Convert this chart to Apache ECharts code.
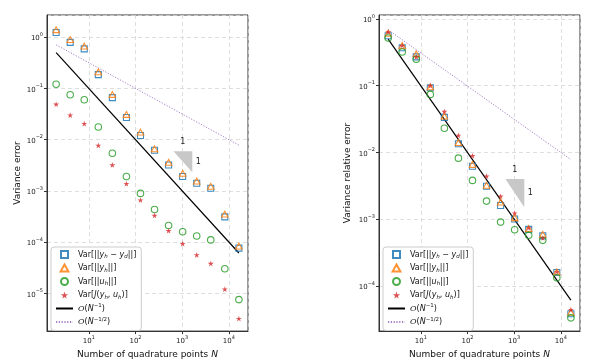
<!DOCTYPE html>
<html>
<head>
<meta charset="utf-8">
<script src="https://cdn.jsdelivr.net/npm/echarts@6/dist/echarts.min.js"></script>
<style>
html, body { margin: 0; padding: 0; background: #fff; }
#chart { width: 615px; height: 364px; }
</style>
</head>
<body>
<div id="chart"></div>
<script>
// number of quadrature points
const nPoints = [2, 4, 8, 16, 32, 64, 128, 256, 512, 1024, 2048, 4096, 8192, 16384]

// variance error (left panel)
const absYhYd = [1.23, 0.79, 0.59, 0.186, 0.066, 0.027, 0.012, 0.0062, 0.0032, 0.0019, 0.0014, 0.00112, 0.00031, 7.6e-5]
const absYh = [1.4, 0.9, 0.67, 0.21, 0.076, 0.031, 0.014, 0.0066, 0.0036, 0.0022, 0.00155, 0.00122, 0.00035, 8.3e-5]
const absUh = [0.12, 0.075, 0.06, 0.0176, 0.0054, 0.0019, 0.00089, 0.00043, 0.00021, 0.000159, 0.000131, 0.00011, 3.0e-5, 7.5e-6]
const absJ = [0.049, 0.030, 0.0205, 0.0077, 0.0032, 0.00138, 0.00066, 0.00033, 0.000166, 9.3e-5, 5.6e-5, 3.8e-5, 1.2e-5, 3.2e-6]

// variance relative error (right panel)
const relYhYd = [0.56, 0.37, 0.27, 0.093, 0.0335, 0.0135, 0.0062, 0.0031, 0.0016, 0.001, 0.0007, 0.00056, 0.000158, 3.8e-5]
const relYh = [0.61, 0.40, 0.30, 0.096, 0.035, 0.014, 0.0066, 0.0032, 0.0018, 0.00105, 0.00072, 0.00059, 0.000162, 4.0e-5]
const relUh = [0.52, 0.32, 0.25, 0.074, 0.023, 0.0082, 0.0038, 0.00186, 0.0009, 0.00069, 0.00057, 0.00048, 0.000132, 3.3e-5]
const relJ = [0.64, 0.40, 0.27, 0.10, 0.041, 0.018, 0.0089, 0.0044, 0.0022, 0.00123, 0.00074, 0.00052, 0.000162, 4.4e-5]

// reference rate lines (end points)
const refN = [2, 16384]
const absRef1 = [0.5, 6.1e-5]
const absRefHalf = [0.71, 0.0078]
const relRef1 = [0.5, 6.1e-5]
const relRefHalf = [0.69, 0.0078]

// slope triangles: [n0, n1] and [yTop, yBottom]
const slopeN = [650, 1650]
const absSlope = [0.0059, 0.0023]
const relSlope = [0.004, 0.0015]

const names = ['yhyd', 'yh', 'uh', 'J', 'ref1', 'refHalf']
const legendText = {
    yhyd: '{t|Var[||}{i|y}{sub|h}{t| − }{i|y}{sub|d}{t|||]}',
    yh: '{t|Var[||}{i|y}{sub|h}{t|||]}',
    uh: '{t|Var[||}{i|u}{sub|h}{t|||]}',
    J: '{t|Var[}{i|J}{t|(}{i|y}{sub|h}{t|, }{i|u}{sub|h}{t|)]}',
    ref1: '{c|O}{t|(}{i|N}{sup|−1}{t|)}',
    refHalf: '{c|O}{t|(}{i|N}{sup|−1/2}{t|)}'
}

const font = 'DejaVu Sans'
const squarePath = 'path://M0,0 L10,0 L10,10 L0,10 Z'
const trianglePath = 'path://M5,0 L10,9 L0,9 Z'
const circlePath = 'path://M5,0 A5,5 0 1 1 5,10 A5,5 0 1 1 5,0 Z'
const starPath = 'path://M50,0 L61,35 L98,35 L68,57 L79,91 L50,70 L21,91 L32,57 L2,35 L39,35 Z'

function pair(xs, ys) {
    return xs.map((x, i) => [x, ys[i]])
}

function powLabel(v) {
    let e = Math.log10(v)
    let r = Math.round(e)
    if (Math.abs(e - r) > 1e-6) return ''
    return '{b|10}{s|' + (r < 0 ? '\u2212' + (-r) : r) + '}'
}

const tickRich = {
    b: { fontSize: 7, lineHeight: 10, verticalAlign: 'bottom', color: '#222', fontFamily: font },
    s: { fontSize: 5, lineHeight: 5, verticalAlign: 'top', color: '#222', fontFamily: font }
}

function makeXAxis(idx) {
    return {
        type: 'log', gridIndex: idx, logBase: 10,
        min: 1.274, max: 25700,
        name: 'Number of quadrature points {i|N}',
        nameLocation: 'middle', nameGap: 14,
        nameTextStyle: {
            fontSize: 9, color: '#111', fontFamily: font, verticalAlign: 'top',
            rich: { i: { fontSize: 9, fontStyle: 'italic', fontFamily: font, color: '#111' } }
        },
        axisLine: { show: true, lineStyle: { color: '#333', width: 1 } },
        axisTick: { show: true, length: 3, lineStyle: { color: '#333' } },
        axisLabel: { formatter: powLabel, rich: tickRich, margin: 4, showMinLabel: false, showMaxLabel: false },
        splitLine: { show: true, lineStyle: { color: '#d6d6d6', type: [4, 3], width: 0.8 } }
    }
}

function makeYAxis(idx, name, min, max, gap) {
    return {
        type: 'log', gridIndex: idx, logBase: 10,
        min: min, max: max,
        name: name, nameLocation: 'middle', nameGap: gap,
        nameTextStyle: { fontSize: 9, color: '#111', fontFamily: font },
        axisLine: { show: true, lineStyle: { color: '#333', width: 1 } },
        axisTick: { show: true, length: 3, lineStyle: { color: '#333' } },
        axisLabel: { formatter: powLabel, rich: tickRich, margin: 4, showMinLabel: false, showMaxLabel: false },
        splitLine: { show: true, lineStyle: { color: '#d6d6d6', type: [4, 3], width: 0.8 } }
    }
}

function makeLegend(left) {
    return {
        data: names, orient: 'vertical', left: left, top: 247,
        itemWidth: 17, itemHeight: 7, itemGap: 2.5,
        padding: [2, 5, 3, 4],
        backgroundColor: '#fff', borderColor: '#cccccc', borderWidth: 1, borderRadius: 3,
        formatter: (n) => legendText[n],
        textStyle: {
            fontSize: 8, color: '#111', fontFamily: font, lineHeight: 11,
            rich: {
                t: { fontSize: 8, lineHeight: 11, fontFamily: font, color: '#111' },
                i: { fontSize: 8, lineHeight: 11, fontStyle: 'italic', fontFamily: font, color: '#111' },
                c: { fontSize: 8, lineHeight: 11, fontStyle: 'italic', fontFamily: 'DejaVu Serif', color: '#111' },
                sub: { fontSize: 5.5, lineHeight: 6, verticalAlign: 'bottom', fontStyle: 'italic', fontFamily: font, color: '#111' },
                sup: { fontSize: 5.5, lineHeight: 6, verticalAlign: 'top', fontFamily: font, color: '#111' }
            }
        }
    }
}

function slopeRender(params, api) {
    let a = api.coord([api.value(0), api.value(1)])
    let b = api.coord([api.value(2), api.value(1)])
    let c = api.coord([api.value(2), api.value(3)])
    let txt = { fontSize: 8, fill: '#222', fontFamily: font, align: 'center', verticalAlign: 'middle', text: '1' }
    return {
        type: 'group',
        children: [
            { type: 'polygon', shape: { points: [a, b, c] }, style: { fill: '#c8c8c8' } },
            { type: 'text', x: (a[0] + b[0]) / 2, y: a[1] - 9, style: Object.assign({}, txt) },
            { type: 'text', x: b[0] + 6, y: (b[1] + c[1]) / 2, style: Object.assign({}, txt) }
        ]
    }
}

function panelSeries(idx, yhyd, yh, uh, J, r1, rh, slope) {
    let base = { xAxisIndex: idx, yAxisIndex: idx }
    let hollow = (color) => ({ color: 'rgba(255,255,255,0)', borderColor: color, borderWidth: 1.1, opacity: 0.85 })
    return [
        Object.assign({ name: 'yhyd', type: 'scatter', symbol: squarePath, symbolSize: 6, symbolKeepAspect: true,
            itemStyle: hollow('#1f77b4'), data: pair(nPoints, yhyd), z: 3 }, base),
        Object.assign({ name: 'yh', type: 'scatter', symbol: trianglePath, symbolSize: 6.5, symbolKeepAspect: true,
            itemStyle: hollow('#ff7f0e'), data: pair(nPoints, yh), z: 3 }, base),
        Object.assign({ name: 'uh', type: 'scatter', symbol: circlePath, symbolSize: 6.5, symbolKeepAspect: true,
            itemStyle: hollow('#2ca02c'), data: pair(nPoints, uh), z: 3 }, base),
        Object.assign({ name: 'J', type: 'scatter', symbol: starPath, symbolSize: 6, symbolKeepAspect: true,
            itemStyle: { color: '#d62728', opacity: 0.8 }, data: pair(nPoints, J), z: 3 }, base),
        Object.assign({ name: 'ref1', type: 'line', symbol: 'none', data: pair(refN, r1),
            lineStyle: { color: '#000', width: 1.2 }, itemStyle: { color: '#000', opacity: 0 }, z: 2 }, base),
        Object.assign({ name: 'refHalf', type: 'line', symbol: 'none', data: pair(refN, rh),
            lineStyle: { color: '#9467bd', width: 1, type: [1.2, 1.6], opacity: 0.85 }, itemStyle: { color: '#9467bd', opacity: 0 }, z: 2 }, base),
        Object.assign({ type: 'custom', renderItem: slopeRender, encode: { x: [0, 2], y: [1, 3] },
            data: [[slopeN[0], slope[0], slopeN[1], slope[1]]], z: 1, silent: true }, base)
    ]
}

let chart = echarts.init(document.getElementById('chart'))
let option = {
    animation: false,
    backgroundColor: '#fff',
    textStyle: { fontFamily: font },
    grid: [
        { left: 47, right: 367, top: 15, bottom: 31, show: true, borderColor: '#333', borderWidth: 1, backgroundColor: 'transparent' },
        { left: 379, right: 35, top: 15, bottom: 31, show: true, borderColor: '#333', borderWidth: 1, backgroundColor: 'transparent' }
    ],
    xAxis: [makeXAxis(0), makeXAxis(1)],
    yAxis: [
        makeYAxis(0, 'Variance error', 1.82e-6, 2.71, 25),
        makeYAxis(1, 'Variance relative error', 2.09e-5, 1.148, 27)
    ],
    legend: [makeLegend(51), makeLegend(383)],
    series: [].concat(
        panelSeries(0, absYhYd, absYh, absUh, absJ, absRef1, absRefHalf, absSlope),
        panelSeries(1, relYhYd, relYh, relUh, relJ, relRef1, relRefHalf, relSlope)
    )
}
chart.setOption(option)
</script>
</body>
</html>
